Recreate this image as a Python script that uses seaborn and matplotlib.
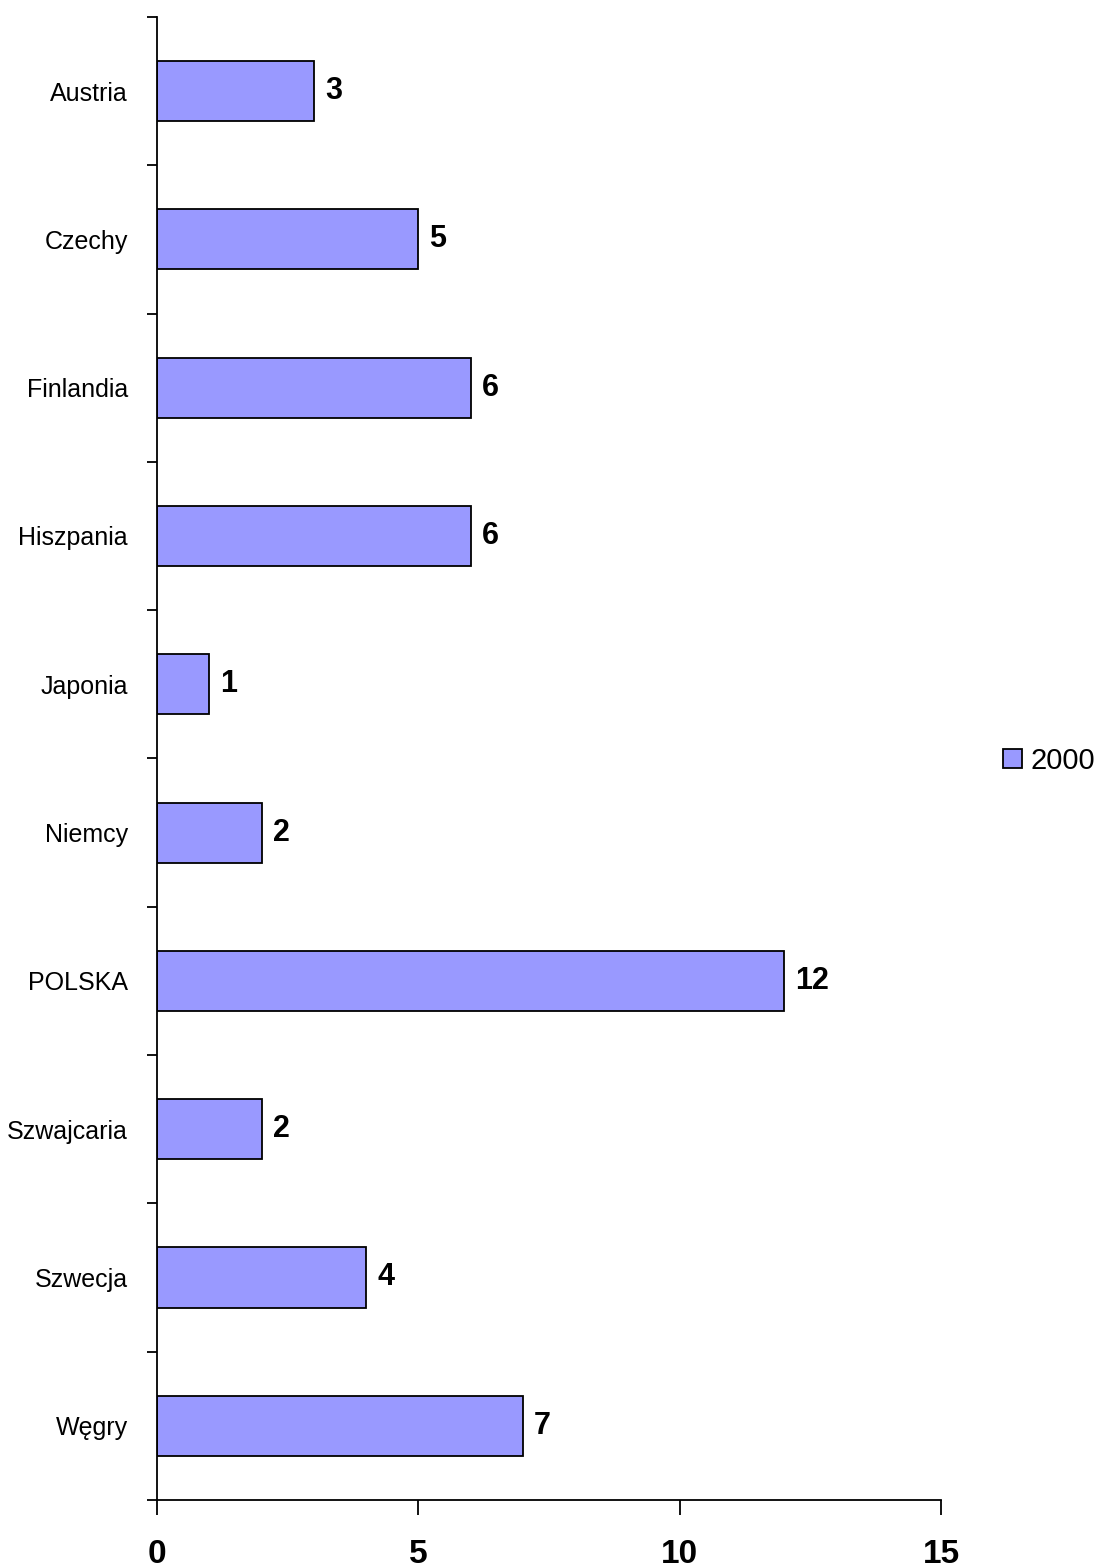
import pandas as pd
import numpy as np
import matplotlib
matplotlib.use('Agg')
import matplotlib.pyplot as plt
import seaborn as sns

countries = ['Austria', 'Czechy', 'Finlandia', 'Hiszpania', 'Japonia', 'Niemcy',
             'POLSKA', 'Szwajcaria', 'Szwecja', 'Węgry']
values = [3, 5, 6, 6, 1, 2, 12, 2, 4, 7]
series = '2000'
x_ticks = [0, 5, 10, 15]

df = pd.DataFrame({'kraj': countries, 'wartosc': values, 'rok': series})

sns.set_style('white')
plt.rcParams['font.family'] = ['Liberation Sans', 'DejaVu Sans']
plt.rcParams['text.color'] = 'black'
plt.rcParams['xtick.color'] = 'black'
plt.rcParams['ytick.color'] = 'black'
plt.rcParams['axes.edgecolor'] = 'black'

fig = plt.figure(figsize=(11.04, 15.67), dpi=100)
ax = fig.add_axes([0.1422, 0.0428, 0.8524 - 0.1422, 0.9892 - 0.0428])

sns.barplot(data=df, x='wartosc', y='kraj', hue='rok', palette=['#9999FF'],
            saturation=1, edgecolor='black', linewidth=1.3, width=0.405,
            dodge=False, legend=False, ax=ax)

for c in ax.containers:
    ax.bar_label(c, padding=8, fontsize=22, fontweight='bold')

ax.set_xlim(0, 15)
ax.set_ylim(len(countries) - 0.5, -0.5)
ax.set_xticks(x_ticks)
ax.set_xticklabels([str(t) for t in x_ticks], fontsize=24, fontweight='bold')
ax.tick_params(axis='x', direction='out', length=11, width=1.3, pad=17, bottom=True)

# ticks on y axis sit between the categories
ax.set_yticks(np.arange(len(countries)))
ax.set_yticklabels(countries, fontsize=18)
ax.set_yticks(np.arange(-0.5, len(countries), 1), minor=True)
ax.tick_params(axis='y', which='major', length=0, pad=21)
ax.tick_params(axis='y', which='minor', direction='out', length=7, width=1.3, left=True)

ax.set_xlabel('')
ax.set_ylabel('')
for s in ['top', 'right']:
    ax.spines[s].set_visible(False)
for s in ['left', 'bottom']:
    ax.spines[s].set_linewidth(1.3)

handle = plt.Rectangle((0, 0), 1, 1, facecolor='#9999FF', edgecolor='black', linewidth=1.3)
fig.legend([handle], [series], loc='center left', bbox_to_anchor=(0.9085, 0.5144),
           frameon=False, fontsize=21, handlelength=0.65, handleheight=0.65,
           handletextpad=0.28, borderpad=0, borderaxespad=0)

fig.savefig('out.png', dpi=100)
